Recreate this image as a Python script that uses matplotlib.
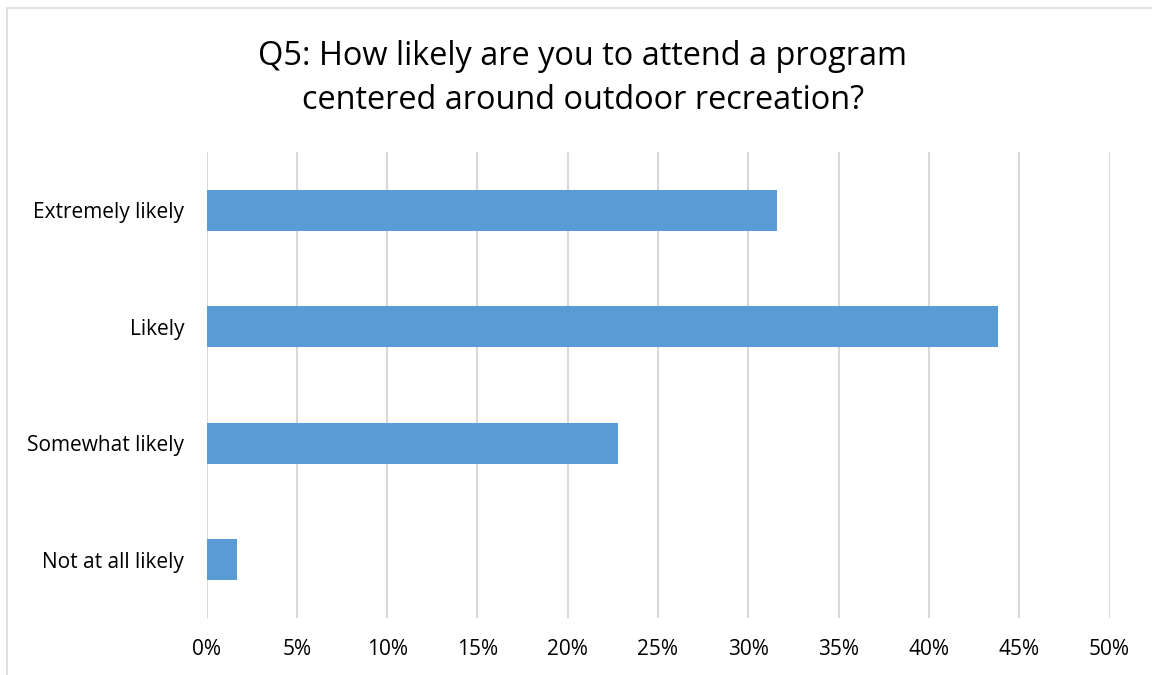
import numpy as np
import matplotlib
matplotlib.use("Agg")
import matplotlib.pyplot as plt
from matplotlib.patches import Rectangle
from matplotlib.ticker import PercentFormatter


W, H = 1152, 675

categories = ["Extremely likely", "Likely", "Somewhat likely", "Not at all likely"]
shares = [31.6, 43.8, 22.8, 1.7]
x_ticks = [0, 5, 10, 15, 20, 25, 30, 35, 40, 45, 50]
title_lines = ["Q5: How likely are you to attend a program",
               "centered around outdoor recreation?"]

BAR_COLOR = "#5B9BD5"
GRID_COLOR = "#D9D9D9"
TEXT_COLOR = "#000000"


def main():
    plt.rcParams["font.family"] = ["Open Sans", "DejaVu Sans"]

    fig = plt.figure(figsize=(W / 100, H / 100), dpi=100)
    fig.patch.set_facecolor("white")

    # outer chart frame (right and bottom edges fall outside the picture)
    fig.patches.append(Rectangle((7 / W, -0.1), 1.2, 1 - 8 / H + 0.1,
                                 transform=fig.transFigure, fill=False,
                                 edgecolor=GRID_COLOR, linewidth=1.2))

    left, right = 206.5 / W, 1109.5 / W
    top, bottom = 152 / H, 618 / H
    ax = fig.add_axes([left, 1 - bottom, right - left, bottom - top])

    y = np.arange(len(categories))
    ax.barh(y, shares, height=0.355, color=BAR_COLOR, zorder=3)

    ax.set_xlim(0, 50)
    ax.set_ylim(len(categories) - 0.5, -0.5)
    ax.set_xticks(x_ticks)
    ax.xaxis.set_major_formatter(PercentFormatter(decimals=0))
    ax.set_yticks(y)
    ax.set_yticklabels(categories)

    ax.grid(axis="x", color=GRID_COLOR, linewidth=1.5, zorder=0)
    ax.grid(axis="y", visible=False)
    for s in ax.spines.values():
        s.set_visible(False)
    ax.tick_params(axis="both", length=0, labelsize=15, colors=TEXT_COLOR)
    ax.tick_params(axis="x", pad=15)
    ax.tick_params(axis="y", pad=16)

    # two title lines, baselines placed to match the original
    for line, base in zip(title_lines, [65, 109]):
        fig.text(583 / W, 1 - base / H, line, ha="center", va="baseline",
                 fontsize=23.4, color=TEXT_COLOR)

    fig.savefig("out.png", dpi=100)


if __name__ == '__main__':
    main()
